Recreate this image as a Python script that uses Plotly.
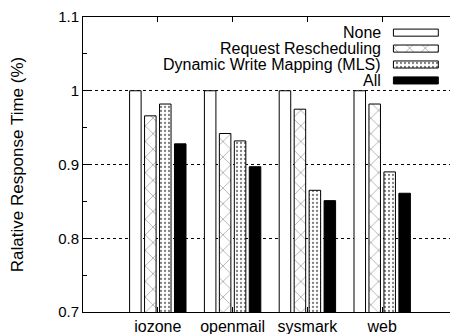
import plotly.graph_objects as go

categories = ["iozone", "openmail", "sysmark", "web"]
series_names = ["None", "Request Rescheduling", "Dynamic Write Mapping (MLS)", "All"]
none_vals = [1.0, 1.0, 1.0, 1.0]
rr_vals = [0.966, 0.942, 0.975, 0.982]
mls_vals = [0.982, 0.932, 0.865, 0.890]
all_vals = [0.928, 0.897, 0.851, 0.861]
y_tick_vals = [0.7, 0.8, 0.9, 1.0, 1.1]
y_tick_text = ["0.7", "0.8", "0.9", "1", "1.1"]

x_idx = list(range(len(categories)))

# legend layout (fractions of the plot area)
leg_rows = [0.947, 0.893, 0.839, 0.785]
leg_key_start = 0.83
leg_key_len = 0.12
leg_key_thick = 0.024
leg_text_x = 0.803

fills = ["white", "white", "white", "black"]
patterns = [
    None,
    dict(shape="x", fgcolor="black", bgcolor="white", size=11, solidity=0.1),
    dict(shape=".", fgcolor="black", bgcolor="white", size=4, solidity=0.25),
    None,
]

fig = go.Figure()
for name, vals, fc, pat in zip(series_names, [none_vals, rr_vals, mls_vals, all_vals], fills, patterns):
    marker = dict(color=fc, line=dict(color="black", width=1))
    if pat:
        marker["pattern"] = pat
    fig.add_trace(go.Bar(x=x_idx, y=vals, name=name, marker=marker, showlegend=False))

# legend keys drawn as horizontal bars on an overlay axis
for name, row, fc, pat in zip(series_names, leg_rows, fills, patterns):
    marker = dict(color=fc, line=dict(color="black", width=1))
    if pat:
        marker["pattern"] = pat
    fig.add_trace(go.Bar(x=[leg_key_len], y=[row], base=[leg_key_start], orientation="h",
                         width=leg_key_thick, marker=marker, xaxis="x2", yaxis="y2",
                         showlegend=False, hoverinfo="skip", name=name))

family = "Liberation Sans, Arial, sans-serif"
font = dict(family=family, size=16, color="black")
ytick_font = dict(family=family, size=15, color="black")

annotations = [
    dict(text=name, x=leg_text_x, y=row, xref="paper", yref="paper",
         xanchor="right", yanchor="middle", showarrow=False, font=font)
    for name, row in zip(series_names, leg_rows)
]

# the page body adds an 8px offset, so the figure is sized to fit the window
fig.update_layout(
    width=450, height=326,
    margin=dict(l=75, r=1, t=9, b=22, autoexpand=False),
    paper_bgcolor="white", plot_bgcolor="white",
    barmode="group", bargap=0.2, bargroupgap=0.23,
    font=font,
    showlegend=False,
    annotations=annotations,
    xaxis=dict(range=[-1, 4], tickvals=x_idx, ticktext=categories,
               showline=True, linecolor="black", linewidth=1, mirror="ticks",
               ticks="inside", ticklen=5, tickcolor="black",
               showgrid=False, zeroline=False, tickfont=font, automargin=False),
    yaxis=dict(range=[0.7, 1.1], tickvals=y_tick_vals, ticktext=y_tick_text,
               showline=True, linecolor="black", linewidth=1, mirror="ticks",
               ticks="inside", ticklen=6, tickcolor="black",
               showgrid=True, gridcolor="black", griddash="dot", gridwidth=1,
               zeroline=False, tickfont=ytick_font, automargin=False,
               minor=dict(dtick=0.05, tick0=0.75, ticks="inside", ticklen=4, tickcolor="black", showgrid=False),
               title=dict(text="Ralative Response Time (%)",
                          font=dict(family=family, size=17, color="black"), standoff=34)),
    xaxis2=dict(overlaying="x", range=[0, 1], visible=False, fixedrange=True),
    yaxis2=dict(overlaying="y", range=[0, 1], visible=False, fixedrange=True),
)

fig.write_html("out.html")
